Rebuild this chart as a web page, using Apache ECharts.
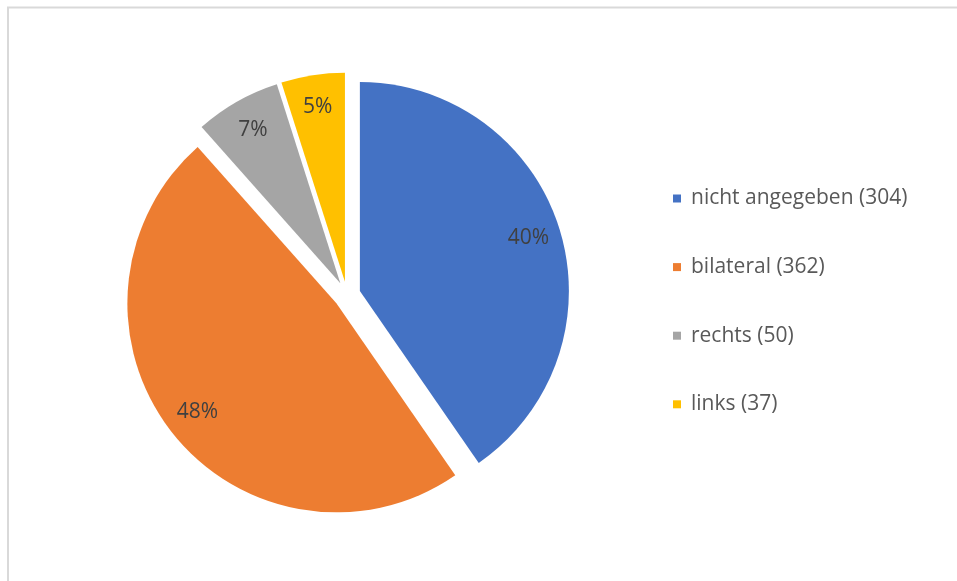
<!DOCTYPE html>
<html>
<head>
<meta charset="utf-8">
<title>Seite</title>
<script src="https://cdn.jsdelivr.net/npm/echarts@6/dist/echarts.min.js"></script>
<style>
  html, body { margin: 0; padding: 0; background: #fff; }
  #pieContainer { width: 957px; height: 581px; }
</style>
</head>
<body>
<div id="pieContainer"></div>
<script>
// Daten
var categories = ['nicht angegeben', 'bilateral', 'rechts', 'links'];
var counts = [304, 362, 50, 37];
var colors = ['#4472C4', '#ED7D31', '#A5A5A5', '#FFC000'];

(function(window, undefined) {
  fnInitPie();

  function fnBuildData(withColor) {
    var list = [];
    for (var i = 0; i < categories.length; i++) {
      list.push({
        name: categories[i],
        value: counts[i],
        selected: true,
        itemStyle: { color: withColor ? colors[i] : 'rgba(0,0,0,0)' },
      });
    }
    return list;
  }

  function fnInitPie() {
    var chart = echarts.init(document.getElementById('pieContainer'));
    var center = [347, 295];

    chart.setOption({
      animation: false,
      // Rahmen oben und links
      graphic: [
        {
          type: 'polyline',
          silent: true,
          shape: { points: [[8, 581], [8, 7.5], [957, 7.5]] },
          style: { stroke: '#d9d9d9', lineWidth: 2, fill: null },
        },
      ],
      legend: {
        orient: 'vertical',
        left: 668,
        top: 183,
        icon: 'rect',
        itemWidth: 8,
        itemHeight: 8,
        itemGap: 47.6,
        selectedMode: false,
        data: categories,
        formatter: function(name) {
          return name + ' (' + counts[categories.indexOf(name)] + ')';
        },
        textStyle: {
          color: '#595959',
          fontFamily: 'Open Sans',
          fontSize: 21,
          lineHeight: 20,
          padding: [0, 0, 0, 5],
        },
      },
      series: [
        {
          type: 'pie',
          center: center,
          radius: [0, 209],
          startAngle: 90,
          selectedMode: 'multiple',
          selectedOffset: 13.5,
          silent: true,
          label: { show: false },
          labelLine: { show: false },
          select: { itemStyle: { borderWidth: 0 } },
          data: fnBuildData(true),
        },
        {
          // nur Beschriftung
          type: 'pie',
          center: center,
          radius: [138, 209],
          startAngle: 90,
          selectedMode: 'multiple',
          selectedOffset: 13.5,
          silent: true,
          legendHoverLink: false,
          percentPrecision: 0,
          labelLine: { show: false },
          label: {
            show: true,
            position: 'inside',
            formatter: '{d}%',
            color: '#404040',
            fontFamily: 'Open Sans',
            fontSize: 21,
          },
          data: fnBuildData(false),
        },
      ],
    });
  }
})(window);
</script>
</body>
</html>
